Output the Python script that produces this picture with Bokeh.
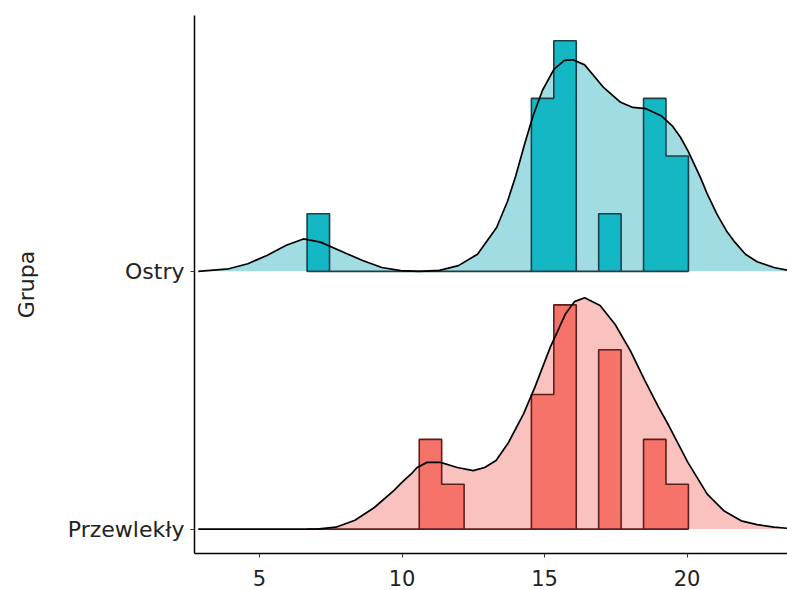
from bokeh.plotting import figure
from bokeh.models import Range1d, FixedTicker
from bokeh.embed import file_html
from bokeh.resources import INLINE

# ---- data ----
group_labels = {1: "Przewlekły", 2: "Ostry"}
group_pos = [1, 2]
axis_title = "Grupa"

# histogram bins
bin_start = 6.67
bin_width = 0.787
ostry_counts = [1, 0, 0, 0, 0, 0, 0, 0, 0, 0, 3, 4, 0, 1, 0, 3, 2]
przew_counts = [0, 0, 0, 0, 0, 2, 1, 0, 0, 0, 3, 5, 0, 4, 0, 2, 1]

# density curves
ostry_x = [2.85, 3.92, 4.59, 5.26, 5.94, 6.54, 7.14, 7.95, 8.62, 9.29, 9.96, 10.6,
           11.31, 11.98, 12.65, 13.32, 13.7, 13.99, 14.3, 14.6, 14.93, 15.33, 15.7,
           16.0, 16.41, 17.08, 17.67, 18.1, 18.56, 19.09, 19.5, 19.77, 20.03, 20.47,
           20.71, 21.05, 21.38, 21.64, 22.05, 22.46, 23.05, 23.6]
ostry_d = [0.0, 0.004, 0.012, 0.025, 0.041, 0.051, 0.046, 0.030, 0.017, 0.006, 0.001, 0.0,
           0.0015, 0.009, 0.027, 0.069, 0.11, 0.15, 0.20, 0.245, 0.285, 0.318, 0.332,
           0.333, 0.325, 0.289, 0.266, 0.258, 0.256, 0.245, 0.228, 0.211, 0.19, 0.148,
           0.122, 0.09, 0.064, 0.048, 0.027, 0.015, 0.006, 0.001]

przew_x = [2.85, 7.01, 7.68, 8.35, 9.03, 9.70, 9.96, 10.37, 10.53, 10.88, 11.35, 11.94,
           12.5, 12.9, 13.3, 13.72, 14.26, 14.66, 15.20, 15.74, 16.05, 16.41, 16.95,
           17.48, 18.02, 18.51, 19.0, 19.36, 20.03, 20.71, 21.29, 21.9, 22.46, 23.05, 23.6]
przew_d = [0.0, 0.0, 0.003, 0.014, 0.034, 0.060, 0.072, 0.089, 0.097, 0.105, 0.105, 0.097,
           0.092, 0.097, 0.108, 0.135, 0.181, 0.223, 0.286, 0.339, 0.358, 0.364, 0.352,
           0.322, 0.28, 0.235, 0.192, 0.163, 0.105, 0.055, 0.029, 0.013, 0.007, 0.003, 0.001]

x_ticks = [5, 10, 15, 20]

# ---- styling ----
SCALE = 2.465   # density -> y units
FONT = "DejaVu Sans"
TXT = "#222222"
styles = {
    "Ostry": dict(fill="#A0DCE1", bar="#14B8C4", edge="#1C3F4A"),
    "Przewlekły": dict(fill="#F9C2BE", bar="#F6736A", edge="#5C1F1C"),
}

p = figure(width=787, height=590,
           x_range=Range1d(2.7193, 23.526), y_range=Range1d(0.9053, 2.9926),
           output_backend="svg", toolbar_location=None,
           min_border_left=194, min_border_right=0, min_border_top=15, min_border_bottom=37)
p.grid.visible = False
p.outline_line_color = None
p.background_fill_color = "white"


def hist_path(counts, base, n):
    xs = [bin_start]
    ys = [base]
    for k, c in enumerate(counts):
        h = base + c / (n * bin_width) * SCALE
        xs += [bin_start + k * bin_width, bin_start + (k + 1) * bin_width]
        ys += [h, h]
    xs.append(bin_start + len(counts) * bin_width)
    ys.append(base)
    return xs, ys


series = [
    ("Ostry", 2, ostry_x, ostry_d, ostry_counts),
    ("Przewlekły", 1, przew_x, przew_d, przew_counts),
]
for name, base, cx, cd, counts in series:
    st = styles[name]
    cy = [base + d * SCALE for d in cd]
    # density fill
    p.patch(cx + [cx[-1], cx[0]], cy + [base, base], fill_color=st["fill"],
            line_color=None)
    # histogram
    hx, hy = hist_path(counts, base, sum(counts))
    p.patch(hx, hy, fill_color=st["bar"], line_color=st["edge"], line_width=1.6)
    # density outline
    p.line(cx, cy, line_color="black", line_width=1.7)

# axes
p.xaxis.ticker = FixedTicker(ticks=x_ticks)
p.yaxis.ticker = FixedTicker(ticks=group_pos)
p.yaxis.major_label_overrides = group_labels
for ax in (p.xaxis, p.yaxis):
    ax.axis_line_color = "black"
    ax.axis_line_width = 1.5
    ax.major_tick_line_color = "#333333"
    ax.major_tick_in = 0
    ax.major_tick_out = 4
    ax.minor_tick_line_color = None
    ax.major_label_text_font = FONT
    ax.major_label_text_color = TXT
p.xaxis.major_label_text_font_size = "21px"
p.yaxis.major_label_text_font_size = "22px"
p.xaxis.major_label_standoff = 12
p.yaxis.major_label_standoff = 6
p.yaxis.axis_label = axis_title
p.yaxis.axis_label_text_font = FONT
p.yaxis.axis_label_text_font_size = "22px"
p.yaxis.axis_label_text_font_style = "normal"
p.yaxis.axis_label_text_color = TXT
p.yaxis.axis_label_standoff = 26

open("out.html", "w").write(file_html(p, INLINE))
